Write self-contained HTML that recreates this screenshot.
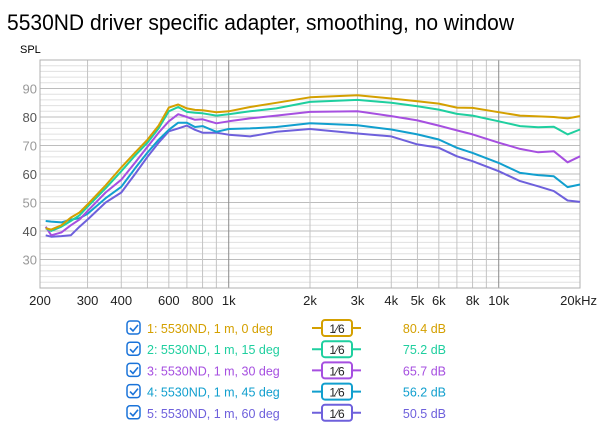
<!DOCTYPE html>
<html><head><meta charset="utf-8"><style>
body{margin:0;background:#fff;}
svg{display:block;font-family:"Liberation Sans",sans-serif;}
</style></head><body>
<svg id="c" width="600" height="424" viewBox="0 0 600 424">
<text x="7" y="30" font-size="22" fill="#000" textLength="507" lengthAdjust="spacingAndGlyphs">5530ND driver specific adapter, smoothing, no window</text>
<text x="20" y="53" font-size="11" fill="#000">SPL</text>
<g id="grid"></g><g id="lines"></g><g id="legend"></g>
</svg>
<script>
const freqs=[210,220,240,260,280,300,350,400,450,500,550,600,650,700,750,800,900,1000,1200,1500,2000,3000,4000,5000,6000,7000,8000,10000,12000,14000,16000,18000,20000];
const s0=[41,40.5,42,44.7,46.5,49.3,56,62.3,67.5,72,77,83.3,84.4,83,82.5,82.4,81.7,82,83.5,85,86.9,87.6,86.5,85.5,84.7,83.3,83.2,81.7,80.5,80.2,80,79.5,80.3];
const s1=[41,40,41.5,43.5,45.5,48.5,55,61,66.5,71,76,82,83.5,81.8,81.5,81.3,80.5,81,82,83,85.3,86,85,83.8,82.6,81.1,80.5,78.5,76.8,76.4,76.6,73.9,75.6];
const s2=[41.5,38.5,39.5,42,44,47,53.5,58,64,69.5,74.5,78.5,81,80,79,79.2,77.8,78.5,79.5,80.5,81.8,82,80.3,78.8,77,75.3,73.9,71,68.8,67.6,68,64.1,66.2];
const s3=[43.5,43.3,43,44,44.5,46,51.5,55.5,62,67.5,72,75.5,78,78,76.5,76.8,74.8,75.8,76,76.5,77.8,77.1,75.6,73.9,72.1,69.2,67.4,63.9,60.4,59.6,59.2,55.4,56.3];
const s4=[38.5,38,38.2,38.5,41.5,44,50,53.5,60,66,71,75,76,77,75.5,74.5,74.5,73.8,73.2,74.8,75.8,74.2,73.2,70.4,69.2,66.2,64.5,61,57.5,55.7,54,50.7,50.2];
const names=["1: 5530ND, 1 m, 0 deg","2: 5530ND, 1 m, 15 deg","3: 5530ND, 1 m, 30 deg","4: 5530ND, 1 m, 45 deg","5: 5530ND, 1 m, 60 deg"];
const levels=["80.4 dB","75.2 dB","65.7 dB","56.2 dB","50.5 dB"];
const yTicks=[30,40,50,60,70,80,90];
const xTickVals=[200,300,400,600,800,1000,2000,3000,4000,5000,6000,8000,10000,20000];
const xTickLabels=["200","300","400","600","800","1k","2k","3k","4k","5k","6k","8k","10k","20kHz"];
const colors=["#d4a000","#1fcf9f","#a64fe0","#119fce","#6e60dc"];
const series=[s0,s1,s2,s3,s4];
const L=40,R=580,T=60,B=288,yMin=20,yMax=100;
const X=f=>L+(R-L)*Math.log10(f/200)/2;
const Y=v=>B-(B-T)*(v-yMin)/(yMax-yMin);
const NS="http://www.w3.org/2000/svg";
function mk(tag,attrs,parent){const e=document.createElementNS(NS,tag);for(const k in attrs)e.setAttribute(k,attrs[k]);parent.appendChild(e);return e;}
const grid=document.getElementById('grid');
for(let v=22;v<100;v+=2){
 const major=v%10===0;
 const l=mk('line',{x1:L,x2:R,y1:Y(v),y2:Y(v),stroke:major?'#bdbdbd':'#e0e0e0','stroke-width':1},grid);
 
 
}
const vf=[300,400,500,600,700,800,900,1000,2000,3000,4000,5000,6000,7000,8000,9000,10000];
vf.forEach(f=>{
 const dark=(f===1000||f===10000);
 const l=mk('line',{x1:X(f),x2:X(f),y1:T,y2:B,stroke:dark?'#8a8a8a':'#c4c4c4','stroke-width':1},grid);
 
 
});
const fr=mk('rect',{x:L,y:T,width:R-L,height:B-T,fill:'none',stroke:'#b0b0b0','stroke-width':1},grid);


yTicks.forEach(v=>{
 const t=mk('text',{x:37,y:Y(v)+5,'font-size':13,'text-anchor':'end',fill:(v%20===0)?'#555':'#999'},grid);
 t.textContent=v;
 
 
});
xTickVals.forEach((f,i)=>{
 const lab=xTickLabels[i];
 const anchor=lab==="20kHz"?'end':'middle';
 const t=mk('text',{x:lab==="20kHz"?597:X(f),y:305,'font-size':13,'text-anchor':anchor,fill:'#222'},grid);
 t.textContent=lab;
 
 
});
const lines=document.getElementById('lines');
for(let k=series.length-1;k>=0;k--){
 const d=series[k].map((v,i)=>(i?'L':'M')+X(freqs[i]).toFixed(1)+','+Y(v).toFixed(1)).join(' ');
 const p=mk('path',{d:d,fill:'none',stroke:colors[k],'stroke-width':2,'stroke-linejoin':'round'},lines);
 
 
}
const lg=document.getElementById('legend');
names.forEach((n,i)=>{
 const cy=328+i*21.2;
 const g=mk('g',{},lg);
 
 
 const cb=mk('rect',{x:127,y:cy-7,width:13,height:13,rx:3,fill:'#fff',stroke:'#1a73d9','stroke-width':1.5},g);
 
 
 const ck=mk('path',{d:`M130,${cy} l3,3 l5,-6`,fill:'none',stroke:'#1a73d9','stroke-width':1.6},g);
 
 
 const t=mk('text',{x:147,y:cy+5,'font-size':12.5,fill:colors[i]},g);
 t.textContent=n;
 
 
 const ln=mk('line',{x1:312,x2:361,y1:cy,y2:cy,stroke:colors[i],'stroke-width':2},g);
 
 
 const bx=mk('rect',{x:322,y:cy-8,width:30,height:16,rx:3,fill:'#fff',stroke:colors[i],'stroke-width':2},g);
 
 
 const ft=mk('text',{x:337,y:cy+5,'font-size':12,'text-anchor':'middle',fill:'#222'},g);
 ft.textContent='1⁄6';
 
 
 const vt=mk('text',{x:446,y:cy+5,'font-size':12.5,'text-anchor':'end',fill:colors[i]},g);
 vt.textContent=levels[i];
 
 
});
</script>
</body></html>
